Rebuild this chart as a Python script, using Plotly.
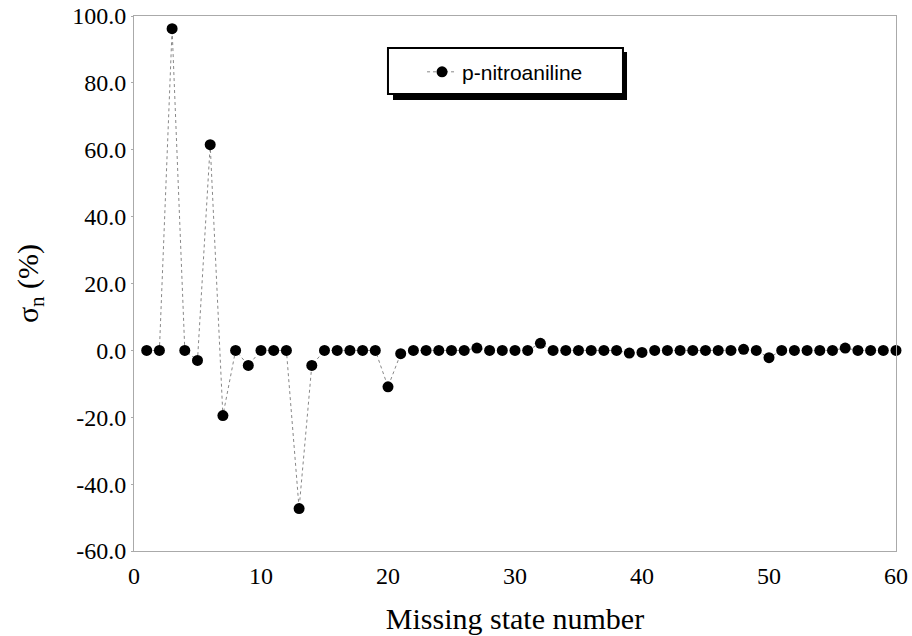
import plotly.graph_objects as go

state = list(range(1, 61))
sigma = [0, 0, 96.2, 0, -3.0, 61.5, -19.5, 0, -4.5, 0,
         0, 0, -47.3, -4.5, 0, 0, 0, 0, 0, -10.9,
         -1.0, 0, 0, 0, 0, 0, 0.7, 0, 0, 0,
         0, 2.1, 0, 0, 0, 0, 0, 0, -0.8, -0.6,
         0, 0, 0, 0, 0, 0, 0, 0.3, 0, -2.2,
         0, 0, 0, 0, 0, 0.7, 0, 0, 0, 0]
series_name = "p-nitroaniline"
x_ticks = [0, 10, 20, 30, 40, 50, 60]
y_ticks = [-60, -40, -20, 0, 20, 40, 60, 80, 100]
y_tick_text = ["-60.0", "-40.0", "-20.0", "0.0", "20.0", "40.0", "60.0", "80.0", "100.0"]

fig = go.Figure()
fig.add_trace(go.Scatter(
    x=state, y=sigma, mode="lines+markers", name=series_name,
    line=dict(color="#888888", width=1, dash="dot"),
    marker=dict(color="black", size=11),
    cliponaxis=False,
))

serif = "Liberation Serif, Times New Roman, serif"
fig.update_layout(
    width=912, height=636,
    margin=dict(l=134, r=16, t=16, b=85, autoexpand=False),
    paper_bgcolor="white", plot_bgcolor="white",
    showlegend=True,
    legend=dict(
        x=0.378, y=0.895, xanchor="left", yanchor="middle",
        bgcolor="rgba(0,0,0,0)", borderwidth=0,
        font=dict(family="Liberation Sans, Arial, sans-serif", size=21, color="black"),
    ),
    xaxis=dict(
        range=[0, 60], tickvals=x_ticks, showgrid=False, zeroline=False, automargin=False,
        showline=True, linecolor="#aaaaaa", linewidth=1, mirror=True,
        ticks="outside", ticklen=3, tickcolor="rgba(0,0,0,0)",
        tickfont=dict(family=serif, size=24, color="black"),
        title=dict(text="Missing state number", font=dict(family=serif, size=30, color="black"), standoff=20),
    ),
    yaxis=dict(
        range=[-60, 100], tickvals=y_ticks, ticktext=y_tick_text, showgrid=False, zeroline=False,
        automargin=False,
        showline=True, linecolor="#aaaaaa", linewidth=1, mirror=True,
        ticks="outside", ticklen=2, tickcolor="#aaaaaa",
        tickfont=dict(family=serif, size=24, color="black"),
        title=dict(text="σ<sub>n</sub> (%)", font=dict(family=serif, size=30, color="black"), standoff=24),
    ),
)

# legend box drawn as shapes: drop shadow, then white framed box
fig.add_shape(type="rect", xref="paper", yref="paper",
              x0=0.3399, x1=0.6470, y0=0.8430, y1=0.9327,
              fillcolor="black", line=dict(width=0), layer="above")
fig.add_shape(type="rect", xref="paper", yref="paper",
              x0=0.3333, x1=0.6417, y0=0.8542, y1=0.9402,
              fillcolor="white", line=dict(color="black", width=2), layer="above")

fig.write_html("out.html")
